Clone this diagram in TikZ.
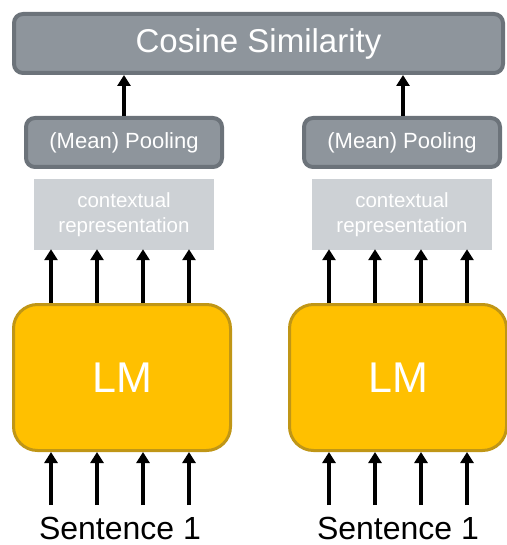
\documentclass[tikz,border=0pt]{standalone}
\usepackage{fontspec}
\setmainfont{Liberation Sans}
\usetikzlibrary{arrows.meta}
\definecolor{boxgray}{HTML}{8E959C}
\definecolor{boxedge}{HTML}{6C737A}
\definecolor{ctxgray}{HTML}{CDD1D5}
\definecolor{lmfill}{HTML}{FFC000}
\definecolor{lmedge}{HTML}{C09616}
\tikzset{
  graybox/.style={draw=boxedge, fill=boxgray, line width=4pt, rounded corners=9pt,
    text=white, inner sep=0pt},
  ctxbox/.style={fill=ctxgray, text=white, inner sep=0pt, align=center,
    minimum width=180pt, minimum height=71pt,
    font=\fontsize{20.5}{25}\selectfont},
  lmbox/.style={draw=lmedge, fill=lmfill, line width=3pt, rounded corners=24pt,
    text=white, inner sep=0pt, minimum width=217pt, minimum height=146pt,
    font=\fontsize{43}{50}\selectfont},
  uparrow/.style={line width=3.8pt, -{Triangle[width=13pt,length=11pt]}},
  sent/.style={anchor=base, inner sep=0pt, font=\fontsize{32}{38}\selectfont}
}
\begin{document}
\begin{tikzpicture}[x=1pt, y=-1pt]
\useasboundingbox (0,0) rectangle (506,545);

% similarity head
\node[graybox, minimum width=489pt, minimum height=59pt,
  font=\fontsize{33}{40}\selectfont] (cos) at (258.5,43.5) {Cosine Similarity};

% pooling layers
\node[graybox, minimum width=196pt, minimum height=49pt,
  font=\fontsize{22}{26}\selectfont] (poolL) at (124,142.5) {(Mean) Pooling};
\node[graybox, minimum width=196pt, minimum height=49pt,
  font=\fontsize{22}{26}\selectfont] (poolR) at (402,142.5) {(Mean) Pooling};

% token embeddings
\node[ctxbox] (ctxL) at (124,214.5) {contextual\\representation};
\node[ctxbox] (ctxR) at (402,214.5) {contextual\\representation};

% encoders
\node[lmbox] (lmL) at (122,377.5) {LM};
\node[lmbox] (lmR) at (398,377.5) {LM};

% inputs
\node[sent] (sL) at (120,539.5) {Sentence 1};
\node[sent] (sR) at (398,539.5) {Sentence 1};

% token input positions
\coordinate (iL1) at (51,505);
\coordinate (iL2) at (97,505);
\coordinate (iL3) at (143,505);
\coordinate (iL4) at (189,505);
\coordinate (iR1) at (329,505);
\coordinate (iR2) at (375,505);
\coordinate (iR3) at (421,505);
\coordinate (iR4) at (467,505);

\foreach \k in {1,...,4}{
  \draw[uparrow] (iL\k) -- (iL\k |- lmL.south);
  \draw[uparrow] (lmL.north -| iL\k) -- ([yshift=1pt]ctxL.south -| iL\k);
  \draw[uparrow] (iR\k) -- (iR\k |- lmR.south);
  \draw[uparrow] (lmR.north -| iR\k) -- ([yshift=1pt]ctxR.south -| iR\k);
}

% pooled vectors into the similarity
\draw[uparrow] (poolL.north) -- (poolL.north |- cos.south);
\draw[uparrow] ([xshift=1pt]poolR.north) -- ([xshift=1pt]poolR.north |- cos.south);
\end{tikzpicture}
\end{document}
